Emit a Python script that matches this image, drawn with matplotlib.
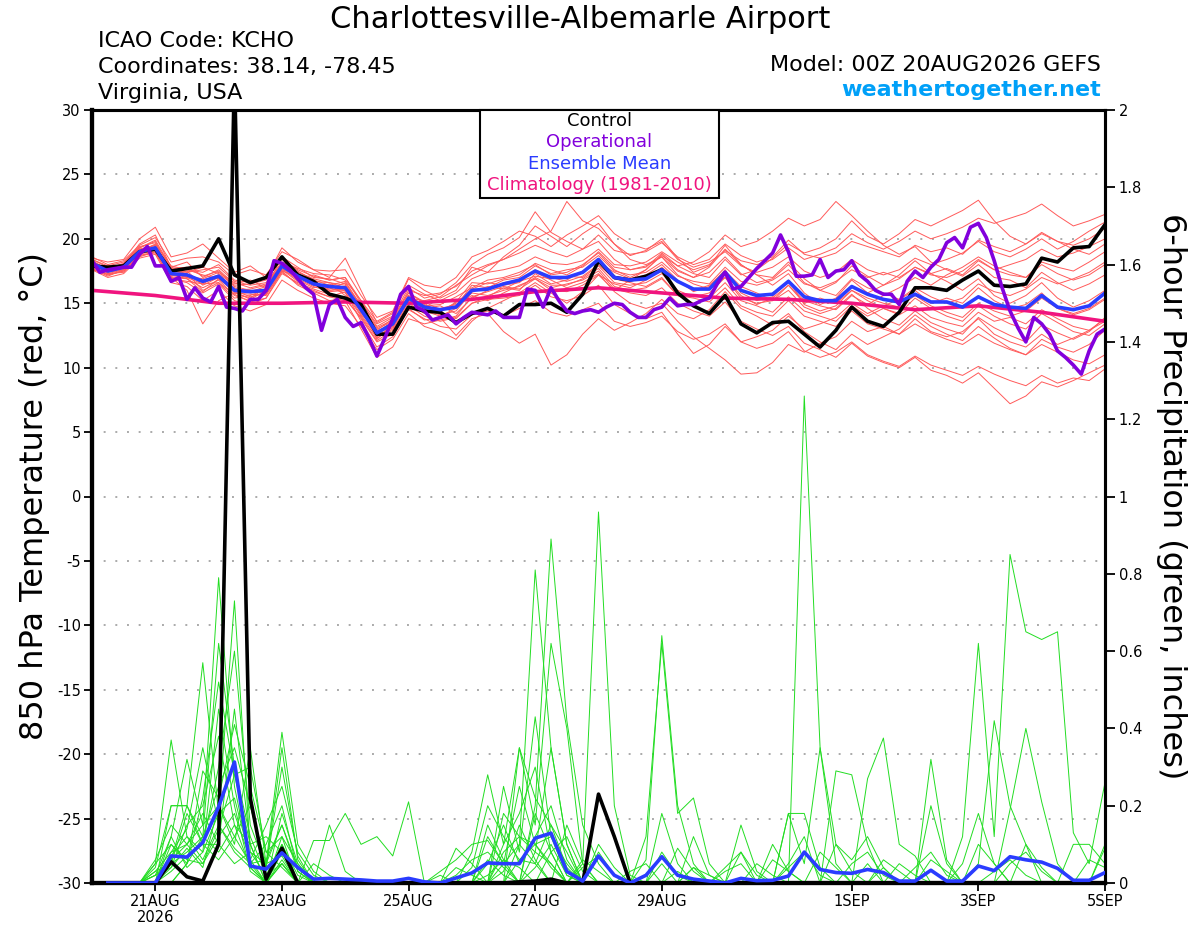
#-*- coding:utf-8 -*-
import numpy as np
import matplotlib
matplotlib.use("Agg")
from matplotlib import pyplot as plt
from matplotlib.patches import Rectangle

# forecast hours after 00Z 20AUG2026
hours_6h = np.arange(0, 385, 6)
hours_3h = np.arange(0, 385, 3)
hours_pcp = np.arange(6, 385, 6)

date_ticks = [24, 72, 120, 168, 216, 288, 336, 384]
date_labels = ["21AUG\n2026", "23AUG", "25AUG", "27AUG", "29AUG", "1SEP", "3SEP", "5SEP"]
temp_ticks = [-30, -25, -20, -15, -10, -5, 0, 5, 10, 15, 20, 25, 30]
pcp_ticks = [0, 0.2, 0.4, 0.6, 0.8, 1.0, 1.2, 1.4, 1.6, 1.8, 2.0]

# 850 hPa temperature (C), 6-hourly
control_t = [17.9, 17.8, 17.9, 19.0, 19.2, 17.5, 17.7, 17.9, 20.0, 17.2, 16.6, 17.0, 18.6,
             17.2, 16.7, 15.7, 15.4, 14.9, 12.6, 12.6, 14.7, 14.4, 14.3, 13.5, 14.2, 14.6,
             14.0, 14.9, 14.9, 15.0, 14.3, 15.7, 18.3, 17.0, 16.8, 17.1, 17.6, 15.8, 14.8,
             14.2, 15.6, 13.4, 12.7, 13.5, 13.6, 12.6, 11.6, 12.9, 14.7, 13.6, 13.2, 14.3,
             16.2, 16.2, 16.0, 16.8, 17.5, 16.4, 16.3, 16.5, 18.5, 18.2, 19.3, 19.4, 21.1]
mean_t = [18.1, 17.5, 17.8, 19.0, 19.3, 17.3, 17.2, 16.7, 17.1, 16.0, 15.9, 16.0, 17.9,
          17.1, 16.5, 16.3, 16.2, 14.5, 12.7, 13.4, 15.4, 14.7, 14.5, 14.7, 16.0, 16.1,
          16.5, 16.8, 17.5, 17.0, 17.0, 17.4, 18.4, 17.0, 16.8, 16.9, 17.6, 16.7, 16.1,
          16.1, 17.4, 16.0, 15.6, 15.7, 16.7, 15.5, 15.2, 15.2, 16.3, 15.7, 15.3, 15.1,
          15.7, 15.1, 15.1, 14.7, 15.5, 14.9, 14.7, 14.6, 15.6, 14.7, 14.5, 14.8, 15.8]
# operational run, 3-hourly
operational_t = [18.3, 17.4, 17.6, 17.7, 17.8, 17.8, 18.8, 19.4, 17.9, 17.9, 16.7, 17.0, 15.3,
                 16.2, 15.4, 15.1, 16.3, 14.7, 14.6, 14.4, 15.3, 15.3, 16.0, 18.3, 18.1, 17.6,
                 16.9, 16.2, 15.7, 12.9, 14.9, 15.3, 13.9, 13.2, 13.5, 12.3, 10.9, 12.3, 13.8,
                 15.7, 16.3, 14.7, 14.4, 13.7, 13.9, 14.1, 13.4, 13.9, 14.3, 14.2, 14.1, 14.4,
                 13.9, 13.9, 13.9, 16.1, 16.0, 14.7, 16.2, 15.2, 14.4, 14.2, 14.4, 14.5, 14.3,
                 14.7, 15.0, 14.9, 14.3, 13.9, 13.9, 14.5, 14.7, 15.4, 14.8, 14.9, 14.9, 15.2,
                 15.4, 16.5, 17.4, 16.1, 16.3, 17.0, 17.7, 18.3, 18.9, 20.3, 19.0, 17.1, 17.1,
                 17.2, 18.4, 17.0, 17.5, 17.6, 18.3, 17.2, 16.7, 16.0, 15.7, 15.7, 14.9, 16.7,
                 17.5, 17.0, 17.8, 18.4, 19.7, 20.1, 19.3, 20.9, 21.2, 20.1, 18.3, 16.2, 14.4,
                 13.1, 12.0, 13.9, 13.4, 12.6, 11.3, 10.8, 10.2, 9.5, 11.3, 12.6, 13.0]
clim_hours = [0, 24, 48, 72, 96, 120, 144, 168, 192, 216, 240, 264, 288, 312, 336, 360, 384]
clim_t = [16.0, 15.6, 15.0, 15.0, 15.1, 15.0, 15.3, 15.9, 16.2, 15.8, 15.4, 15.3, 15.0,
          14.5, 14.8, 14.3, 13.6]

# 6-hour precipitation (inches)
control_p = [0, 0, 0, 0, 0.055, 0.016, 0.005, 0.10, 2.1, 0.22, 0.01, 0.09, 0,
             0, 0, 0, 0, 0, 0, 0, 0, 0, 0, 0, 0, 0, 0.003, 0.005, 0.01, 0, 0, 0.23,
             0.12, 0, 0, 0, 0, 0, 0, 0, 0, 0, 0, 0, 0, 0, 0, 0, 0, 0, 0, 0,
             0, 0, 0, 0, 0, 0, 0, 0, 0, 0, 0, 0]
mean_p = [0, 0, 0, 0, 0.07, 0.067, 0.105, 0.197, 0.313, 0.044, 0.036, 0.078, 0.04,
          0.01, 0.012, 0.01, 0.008, 0.005, 0.005, 0.012, 0.003, 0.0, 0.013, 0.026, 0.052,
          0.05, 0.05, 0.116, 0.129, 0.03, 0.005, 0.07, 0.02, 0.0, 0.02, 0.068, 0.02, 0.01,
          0.005, 0.0, 0.012, 0.006, 0.007, 0.018, 0.08, 0.035, 0.027, 0.025, 0.035, 0.027,
          0.005, 0.005, 0.033, 0.005, 0.005, 0.044, 0.032, 0.068, 0.06, 0.054, 0.038,
          0.007, 0.007, 0.027]

# ensemble members, temperature
members_t = [
    [18.4, 17.8, 18.0, 19.6, 20.3, 17.8, 18.2, 17.0, 17.6, 16.5, 16.8, 16.2, 18.6, 17.8, 17.0, 16.9, 16.5, 14.2,
     12.9, 13.8, 16.0, 15.6, 15.8, 16.3, 17.5, 18.0, 18.4, 18.9, 19.5, 19.0, 18.6, 19.2, 20.3, 19.1, 18.8, 19.0, 19.7, 18.6,
     18.0, 18.4, 19.6, 18.7, 18.2, 18.6, 19.9, 18.8, 18.5, 18.9, 19.8, 19.4, 19.0, 18.6, 19.5, 19.0, 19.3, 18.8, 19.9, 19.4,
     19.0, 19.6, 20.4, 19.8, 19.5, 20.0, 20.8],
    [17.8, 17.2, 17.5, 18.6, 19.0, 16.9, 16.6, 15.8, 16.5, 15.2, 14.9, 15.4, 17.5, 16.4, 15.8, 15.2, 15.4, 13.8,
     12.0, 12.6, 14.5, 13.8, 13.2, 13.0, 14.1, 14.4, 14.0, 14.6, 15.2, 14.3, 14.0, 14.5, 15.0, 13.6, 13.2, 13.5, 14.0, 12.8,
     12.2, 12.6, 13.4, 12.0, 11.5, 11.9, 12.8, 11.3, 10.8, 11.2, 12.0, 11.0, 10.5, 10.1, 10.9, 10.2, 9.8, 9.4, 10.1, 9.5,
     9.0, 8.6, 9.4, 8.8, 9.2, 9.0, 9.9],
    [18.0, 17.6, 17.9, 19.2, 19.5, 17.0, 16.0, 13.4, 15.2, 15.8, 15.4, 16.2, 17.8, 16.9, 17.2, 16.8, 17.0, 15.2,
     13.2, 13.9, 15.8, 15.0, 14.2, 13.8, 15.0, 15.5, 16.2, 16.0, 17.3, 16.5, 16.8, 17.5, 18.2, 17.4, 16.9, 17.2, 18.0, 16.8,
     15.9, 16.3, 17.6, 15.8, 15.2, 15.5, 16.8, 14.9, 14.4, 14.8, 16.0, 15.2, 14.6, 14.2, 15.4, 14.6, 14.0, 13.6, 14.8, 14.0,
     13.4, 13.0, 14.2, 13.5, 12.8, 12.5, 13.4],
    [18.5, 18.2, 18.4, 20.0, 20.9, 18.6, 18.9, 19.6, 18.5, 17.4, 17.9, 17.0, 19.3, 18.2, 17.6, 17.0, 18.5, 16.0,
     13.5, 14.2, 16.9, 16.0, 15.4, 16.0, 17.8, 17.4, 18.6, 19.5, 21.0, 20.2, 19.4, 20.4, 21.2, 19.6, 18.7, 19.1, 20.0, 18.5,
     17.4, 17.9, 19.5, 18.0, 17.2, 17.0, 18.2, 16.9, 16.0, 16.6, 17.9, 17.1, 16.4, 16.9, 17.8, 17.2, 17.0, 17.5, 18.4, 17.6,
     17.2, 17.0, 18.0, 17.3, 16.8, 17.2, 18.0],
    [17.6, 17.3, 17.4, 18.8, 19.1, 17.2, 16.9, 16.2, 16.8, 15.6, 15.2, 15.7, 17.4, 16.5, 16.0, 15.5, 15.9, 13.6,
     11.6, 12.4, 14.6, 13.7, 13.9, 12.5, 13.8, 14.2, 12.8, 11.9, 12.6, 10.2, 11.0, 12.6, 13.8, 12.9, 13.5, 14.2, 15.3, 14.2,
     13.8, 14.5, 15.9, 14.6, 14.0, 13.3, 14.2, 12.8, 12.0, 11.4, 12.6, 11.8, 12.4, 13.0, 14.1, 13.2, 12.6, 12.1, 13.2, 12.3,
     11.5, 11.0, 12.2, 11.6, 11.2, 11.8, 12.9],
    [18.2, 17.7, 18.1, 19.3, 19.8, 17.6, 17.4, 17.8, 17.3, 16.4, 16.5, 16.8, 18.5, 17.5, 16.8, 16.4, 16.7, 14.8,
     13.0, 13.6, 15.4, 15.2, 15.5, 16.4, 17.2, 17.9, 18.4, 19.2, 20.0, 20.6, 22.9, 21.4, 20.8, 19.6, 18.4, 18.0, 18.6, 17.2,
     16.5, 16.1, 17.0, 15.6, 14.9, 15.4, 16.4, 15.2, 14.8, 14.5, 15.6, 14.9, 15.6, 16.2, 17.0, 16.4, 17.2, 17.8, 18.6, 17.9,
     17.4, 17.0, 18.2, 17.8, 17.5, 18.2, 19.0],
    [17.9, 17.4, 17.6, 19.0, 19.4, 17.4, 17.0, 16.5, 17.2, 16.2, 15.8, 15.9, 17.9, 17.0, 16.6, 16.0, 16.1, 14.6,
     12.4, 13.2, 15.5, 14.9, 14.3, 15.1, 16.6, 16.5, 16.9, 17.2, 18.1, 17.6, 17.2, 17.9, 19.0, 17.8, 17.6, 17.8, 18.9, 17.9,
     17.3, 17.0, 18.4, 17.2, 17.6, 18.5, 19.6, 18.9, 19.3, 20.0, 21.4, 20.2, 19.6, 20.4, 21.5, 21.0, 21.6, 22.2, 23.0, 21.4,
     20.2, 19.6, 20.5, 19.8, 19.2, 18.8, 19.6],
    [18.3, 17.6, 17.7, 19.1, 19.2, 17.1, 17.5, 16.4, 17.0, 16.0, 15.5, 15.8, 17.6, 17.3, 16.4, 16.2, 15.8, 14.0,
     12.3, 13.0, 15.0, 14.2, 14.6, 14.9, 15.6, 15.2, 15.8, 16.4, 16.9, 16.2, 16.5, 16.8, 17.5, 16.1, 15.8, 15.6, 16.2, 15.0,
     14.4, 14.0, 15.1, 13.6, 13.0, 12.5, 13.2, 11.9, 11.4, 10.8, 11.9, 10.9, 10.4, 10.0, 10.8, 9.8, 9.4, 8.8, 9.6, 8.4,
     7.2, 7.8, 8.9, 8.5, 9.0, 9.6, 10.2],
    [17.7, 17.1, 17.6, 18.7, 19.0, 16.8, 17.1, 16.9, 17.4, 16.6, 16.2, 16.5, 18.0, 17.4, 16.9, 16.6, 16.2, 14.4,
     12.8, 13.5, 15.6, 14.8, 14.9, 15.5, 16.2, 16.8, 17.0, 17.4, 18.0, 17.2, 17.4, 18.0, 18.9, 17.6, 17.0, 17.6, 18.7, 17.9,
     18.2, 19.0, 20.3, 19.4, 19.8, 20.6, 21.6, 21.0, 21.5, 22.9, 21.8, 20.6, 19.5, 18.8, 19.4, 18.2, 17.6, 17.1, 18.0, 17.0,
     16.8, 16.2, 17.4, 16.6, 16.0, 16.5, 17.2],
    [18.0, 17.4, 17.7, 18.9, 19.1, 17.5, 17.3, 16.0, 16.6, 15.4, 15.6, 16.1, 17.7, 16.8, 16.2, 16.5, 15.6, 14.5,
     12.6, 13.3, 15.1, 14.4, 14.0, 14.6, 15.8, 15.6, 16.0, 16.3, 17.0, 16.4, 16.4, 16.9, 17.7, 16.3, 16.0, 16.2, 16.9, 15.6,
     15.0, 15.4, 16.6, 15.2, 14.8, 14.3, 15.5, 14.4, 14.0, 13.6, 14.8, 14.0, 14.6, 14.1, 14.8, 13.9, 13.5, 13.2, 14.3, 13.6,
     13.9, 13.4, 14.5, 13.8, 13.2, 12.9, 13.6],
    [18.1, 17.5, 17.8, 19.0, 19.6, 17.9, 17.6, 17.4, 18.0, 16.8, 16.6, 16.9, 18.4, 17.6, 17.1, 16.8, 17.0, 15.0,
     13.4, 14.0, 16.2, 15.4, 15.7, 16.6, 18.0, 18.8, 19.3, 20.1, 22.1, 20.5, 19.8, 19.2, 19.8, 18.4, 17.6, 17.9, 18.6, 17.5,
     17.0, 17.4, 18.6, 17.3, 16.6, 16.9, 18.0, 16.6, 16.0, 15.6, 16.9, 16.2, 15.8, 15.3, 16.2, 15.5, 15.0, 15.4, 16.5, 15.9,
     15.6, 16.1, 17.0, 16.5, 16.9, 17.4, 18.2],
    [17.7, 17.2, 17.5, 18.7, 18.9, 16.9, 16.7, 16.5, 16.6, 15.7, 15.1, 15.4, 17.3, 16.6, 16.1, 15.7, 15.3, 13.9,
     12.1, 12.9, 14.8, 14.0, 13.6, 13.9, 15.0, 15.3, 15.4, 15.6, 16.4, 15.5, 15.2, 15.6, 16.4, 14.9, 14.2, 13.8, 14.3, 12.6,
     11.1, 11.8, 13.2, 12.0, 12.4, 12.9, 14.0, 13.0, 13.4, 13.9, 15.0, 14.2, 14.8, 15.3, 16.0, 15.0, 15.4, 15.0, 16.2, 15.2,
     14.6, 14.9, 15.8, 14.6, 14.2, 14.6, 15.4],
    [18.4, 17.9, 18.2, 19.4, 19.7, 17.3, 17.0, 16.8, 17.2, 16.1, 15.9, 16.3, 18.1, 16.9, 16.3, 15.9, 16.0, 14.1,
     12.5, 13.1, 15.2, 14.6, 14.8, 14.2, 15.4, 16.0, 16.6, 16.8, 17.4, 16.8, 16.2, 16.6, 17.3, 15.9, 15.0, 14.6, 15.0, 13.6,
     12.4, 11.5, 10.6, 9.5, 9.6, 10.4, 11.8, 11.2, 11.9, 12.4, 13.6, 12.8, 13.2, 12.6, 13.4, 12.7, 12.2, 11.8, 12.6, 11.9,
     11.4, 11.0, 11.8, 11.2, 10.6, 10.3, 11.0],
    [17.8, 17.5, 17.9, 19.2, 19.3, 17.7, 17.8, 17.1, 17.5, 16.3, 16.0, 15.7, 17.9, 17.2, 16.7, 16.6, 16.4, 14.9,
     13.1, 13.7, 15.8, 15.1, 14.5, 14.8, 16.4, 16.2, 16.8, 17.0, 17.9, 17.3, 17.6, 17.8, 18.7, 17.5, 17.2, 17.4, 18.2, 17.1,
     16.7, 16.5, 17.8, 16.7, 16.4, 16.8, 17.6, 16.5, 16.2, 16.7, 17.6, 17.0, 17.4, 17.0, 17.8, 17.3, 17.7, 17.2, 18.3, 17.6,
     18.0, 18.4, 19.2, 18.6, 18.9, 19.4, 20.0],
    [18.2, 17.3, 17.6, 18.8, 19.4, 17.0, 16.9, 15.9, 16.9, 15.9, 15.3, 16.0, 17.5, 17.1, 16.5, 16.1, 16.6, 14.7,
     12.2, 13.4, 15.3, 14.5, 14.1, 14.4, 15.9, 16.3, 16.1, 16.7, 17.1, 16.9, 17.1, 17.0, 17.9, 16.6, 16.4, 16.6, 17.3, 16.0,
     15.5, 15.8, 17.0, 15.4, 15.0, 15.2, 16.4, 15.0, 15.4, 15.0, 16.0, 15.4, 15.0, 14.7, 15.6, 14.8, 14.3, 13.9, 15.0, 14.4,
     14.0, 14.4, 15.4, 14.6, 14.1, 14.5, 15.3],
    [18.0, 17.6, 17.8, 19.1, 19.5, 17.1, 17.2, 16.6, 17.0, 15.8, 15.7, 15.6, 17.6, 16.7, 15.9, 15.5, 15.2, 13.0,
     10.8, 11.6, 13.8, 13.4, 13.7, 14.0, 15.5, 15.9, 16.3, 16.1, 16.9, 16.0, 15.9, 16.4, 17.2, 16.5, 16.2, 16.8, 17.8, 16.7,
     16.0, 16.4, 17.5, 16.3, 15.8, 15.2, 16.0, 14.7, 14.2, 14.6, 15.7, 14.6, 13.8, 13.3, 14.4, 13.5, 13.0, 12.6, 13.9, 13.1,
     12.5, 12.0, 13.3, 12.7, 12.2, 12.8, 13.9],
    [17.9, 17.8, 18.0, 19.3, 19.9, 17.8, 17.4, 17.6, 17.8, 16.7, 16.4, 16.6, 18.2, 17.7, 17.3, 17.2, 16.8, 15.2,
     13.6, 14.3, 16.4, 15.7, 15.2, 15.8, 16.9, 17.4, 17.6, 17.9, 18.6, 18.1, 18.0, 18.3, 19.2, 18.0, 17.9, 18.2, 19.0, 18.2,
     17.6, 18.0, 19.1, 18.3, 18.0, 18.4, 19.3, 18.4, 18.8, 19.3, 20.4, 19.7, 19.2, 19.8, 20.6, 20.0, 20.4, 20.9, 21.6, 21.2,
     21.6, 22.0, 22.7, 21.8, 21.0, 21.4, 21.9],
    [18.3, 17.6, 17.9, 19.0, 19.2, 17.4, 17.6, 17.2, 16.9, 16.0, 16.1, 16.4, 18.1, 17.0, 16.4, 16.0, 16.2, 14.3,
     12.7, 13.6, 15.6, 14.7, 14.4, 15.0, 16.1, 16.6, 16.4, 16.6, 17.6, 17.0, 16.7, 17.1, 18.0, 16.9, 16.6, 16.3, 17.0, 15.6,
     15.4, 15.1, 16.2, 14.8, 14.3, 14.0, 15.2, 14.0, 13.6, 13.2, 14.4, 13.4, 13.0, 12.6, 13.8, 12.8, 12.4, 12.8, 13.8, 12.6,
     12.0, 11.6, 12.6, 11.8, 12.3, 12.9, 13.8],
    [17.6, 17.0, 17.3, 18.5, 18.8, 16.6, 16.3, 15.2, 16.0, 14.8, 14.4, 14.9, 16.8, 16.0, 15.4, 15.0, 14.8, 13.2,
     11.4, 12.2, 14.2, 13.2, 12.8, 12.2, 13.6, 14.6, 15.2, 15.8, 16.6, 15.8, 15.0, 15.9, 17.2, 16.0, 16.8, 17.6, 18.8, 17.6,
     17.0, 17.8, 19.2, 18.0, 17.2, 16.4, 17.3, 15.8, 14.9, 15.4, 16.8, 15.8, 16.4, 17.2, 18.3, 17.3, 16.7, 16.0, 16.9, 15.6,
     15.0, 15.6, 16.6, 15.4, 14.7, 15.2, 16.0],
    [18.6, 18.0, 18.3, 19.5, 20.1, 18.2, 18.5, 18.6, 18.2, 17.2, 17.6, 17.2, 19.0, 18.4, 17.6, 17.5, 17.6, 15.6,
     13.9, 14.4, 17.0, 16.4, 16.2, 17.0, 18.6, 19.1, 19.8, 20.6, 20.2, 19.4, 20.3, 21.0, 21.8, 20.4, 19.6, 19.2, 19.8, 18.4,
     17.8, 18.2, 19.0, 17.9, 17.4, 17.8, 18.6, 17.5, 17.0, 17.4, 18.4, 17.6, 17.2, 17.6, 18.5, 18.0, 18.4, 18.9, 19.8, 19.0,
     18.6, 19.2, 20.0, 19.2, 19.8, 20.6, 21.3],
]

# ensemble members, precipitation: {forecast hour: inches}, zero elsewhere
members_p = [
    {24: 0.05, 30: 0.37, 36: 0.12, 42: 0.08, 48: 0.45, 54: 0.2, 60: 0.03, 72: 0.06, 156: 0.05, 162: 0.1,
     168: 0.81, 174: 0.35, 180: 0.1, 216: 0.05, 264: 0.05, 270: 0.12},
    {24: 0.02, 30: 0.12, 36: 0.32, 42: 0.15, 48: 0.79, 54: 0.25, 60: 0.05, 66: 0.1, 72: 0.2, 78: 0.03,
     150: 0.12, 156: 0.05, 168: 0.2, 174: 0.89, 180: 0.42, 186: 0.15, 192: 0.05, 228: 0.04, 294: 0.05},
    {30: 0.06, 36: 0.2, 42: 0.57, 48: 0.18, 54: 0.73, 60: 0.08, 66: 0.05, 72: 0.39, 78: 0.1, 84: 0.03,
     156: 0.25, 162: 0.08, 168: 0.43, 174: 0.12, 180: 0.02, 222: 0.03, 282: 0.29, 288: 0.28, 294: 0.1},
    {24: 0.04, 30: 0.2, 36: 0.2, 42: 0.1, 48: 0.3, 54: 0.6, 60: 0.15, 66: 0.04, 72: 0.35, 78: 0.06,
     186: 0.05, 192: 0.96, 198: 0.2, 204: 0.02, 264: 0.18, 270: 0.18, 276: 0.04, 318: 0.32, 324: 0.06},
    {30: 0.1, 36: 0.05, 42: 0.29, 48: 0.22, 54: 0.41, 60: 0.25, 66: 0.08, 72: 0.12, 84: 0.11, 90: 0.11,
     96: 0.18, 102: 0.1, 108: 0.12, 114: 0.07, 120: 0.21, 138: 0.09, 144: 0.05, 210: 0.06, 216: 0.64,
     222: 0.2, 228: 0.05, 348: 0.19, 354: 0.4, 360: 0.21, 366: 0.05},
    {24: 0.03, 30: 0.08, 36: 0.14, 42: 0.35, 48: 0.15, 54: 0.09, 60: 0.05, 72: 0.18, 78: 0.05, 144: 0.08,
     150: 0.28, 156: 0.1, 162: 0.35, 168: 0.15, 174: 0.62, 180: 0.4, 186: 0.05, 270: 1.26, 276: 0.35,
     282: 0.05, 300: 0.04},
    {30: 0.05, 36: 0.08, 42: 0.12, 48: 0.62, 54: 0.3, 60: 0.12, 66: 0.02, 72: 0.1, 150: 0.15, 156: 0.06,
     168: 0.08, 174: 0.35, 180: 0.1, 210: 0.12, 216: 0.62, 222: 0.18, 228: 0.22, 234: 0.05, 330: 0.12,
     336: 0.62, 342: 0.12, 348: 0.85, 354: 0.65, 360: 0.63, 366: 0.65, 372: 0.13, 378: 0.05, 384: 0.26},
    {24: 0.06, 30: 0.15, 36: 0.1, 42: 0.18, 48: 0.1, 54: 0.45, 60: 0.1, 66: 0.12, 72: 0.08, 78: 0.04,
     90: 0.15, 96: 0.03, 156: 0.18, 162: 0.12, 168: 0.1, 174: 0.05, 246: 0.15, 252: 0.03, 294: 0.27,
     300: 0.375, 306: 0.1, 312: 0.07},
    {30: 0.2, 36: 0.2, 42: 0.12, 48: 0.25, 54: 0.35, 60: 0.2, 66: 0.05, 72: 0.15, 78: 0.04, 132: 0.03,
     138: 0.06, 144: 0.1, 150: 0.11, 156: 0.05, 162: 0.25, 168: 0.1, 174: 0.12, 180: 0.05, 216: 0.18,
     222: 0.05, 258: 0.1, 264: 0.03, 276: 0.08, 282: 0.04, 318: 0.2, 324: 0.05},
    {36: 0.05, 42: 0.22, 48: 0.52, 54: 0.28, 60: 0.1, 72: 0.05, 162: 0.35, 168: 0.22, 174: 0.15, 180: 0.04,
     192: 0.08, 198: 0.02, 240: 0.04, 246: 0.08, 336: 0.05, 342: 0.42, 348: 0.2, 354: 0.1, 384: 0.09},
    {24: 0.02, 30: 0.06, 36: 0.1, 42: 0.05, 48: 0.14, 54: 0.28, 60: 0.3, 66: 0.08, 72: 0.04, 144: 0.04,
     150: 0.2, 156: 0.12, 162: 0.06, 168: 0.05, 180: 0.15, 186: 0.05, 264: 0.18, 270: 0.05, 276: 0.35,
     282: 0.1, 288: 0.03},
    {30: 0.04, 36: 0.15, 42: 0.2, 48: 0.38, 54: 0.15, 60: 0.04, 72: 0.12, 78: 0.05, 156: 0.1, 162: 0.18,
     168: 0.3, 174: 0.08, 192: 0.1, 198: 0.04, 228: 0.04, 234: 0.02, 306: 0.05, 312: 0.02, 372: 0.1,
     378: 0.1, 384: 0.05},
    {30: 0.12, 36: 0.04, 42: 0.08, 48: 0.18, 54: 0.22, 60: 0.06, 66: 0.15, 72: 0.25, 78: 0.08, 84: 0.02,
     150: 0.05, 156: 0.15, 162: 0.05, 168: 0.12, 174: 0.2, 180: 0.06, 216: 0.08, 222: 0.02, 282: 0.1,
     288: 0.06, 294: 0.12, 300: 0.04},
    {24: 0.03, 30: 0.05, 36: 0.18, 42: 0.1, 48: 0.06, 54: 0.12, 60: 0.2, 66: 0.04, 72: 0.3, 78: 0.07,
     138: 0.02, 144: 0.06, 150: 0.08, 156: 0.04, 168: 0.18, 174: 0.08, 186: 0.06, 192: 0.03, 336: 0.1,
     342: 0.05, 354: 0.1, 360: 0.04},
    {30: 0.08, 36: 0.1, 42: 0.15, 48: 0.2, 54: 0.1, 60: 0.35, 66: 0.05, 72: 0.07, 162: 0.1, 168: 0.05,
     174: 0.15, 180: 0.08, 228: 0.12, 234: 0.02, 252: 0.05, 258: 0.02, 318: 0.06, 324: 0.03},
    {24: 0.05, 30: 0.1, 36: 0.06, 42: 0.05, 48: 0.12, 54: 0.18, 60: 0.06, 72: 0.1, 78: 0.02, 156: 0.08,
     162: 0.12, 168: 0.08, 174: 0.05, 204: 0.03, 210: 0.05, 264: 0.04, 270: 0.08, 276: 0.02, 330: 0.05,
     336: 0.18, 342: 0.05, 384: 0.1},
    {30: 0.03, 36: 0.07, 42: 0.1, 48: 0.1, 54: 0.05, 60: 0.08, 66: 0.02, 72: 0.05, 84: 0.05, 90: 0.02,
     150: 0.02, 156: 0.06, 162: 0.04, 174: 0.08, 180: 0.12, 186: 0.03, 246: 0.08, 252: 0.02, 300: 0.06,
     306: 0.03, 348: 0.05, 354: 0.08, 360: 0.03},
    {36: 0.05, 42: 0.12, 48: 0.08, 54: 0.15, 60: 0.1, 72: 0.08, 138: 0.04, 144: 0.02, 162: 0.06, 168: 0.1,
     174: 0.04, 222: 0.09, 228: 0.03, 312: 0.04, 318: 0.08, 324: 0.02},
    {30: 0.07, 36: 0.12, 42: 0.06, 48: 0.15, 54: 0.08, 60: 0.04, 72: 0.05, 156: 0.03, 162: 0.15, 168: 0.06,
     186: 0.04, 192: 0.07, 198: 0.02, 258: 0.06, 264: 0.03, 288: 0.05, 294: 0.08, 300: 0.02, 378: 0.06,
     384: 0.04},
    {24: 0.02, 30: 0.04, 36: 0.09, 42: 0.04, 48: 0.2, 54: 0.12, 60: 0.05, 66: 0.06, 72: 0.15, 78: 0.03,
     132: 0.02, 150: 0.06, 156: 0.02, 168: 0.04, 174: 0.1, 180: 0.02, 240: 0.03, 246: 0.05, 342: 0.03,
     348: 0.06, 354: 0.02},
]

C_CONTROL = "black"
C_OPER = "#8200dc"
C_MEAN = "#2a3cff"
C_CLIM = "#f0147f"
C_MEMBER_T = "#ff5a5a"
C_MEMBER_P = "#22dd22"


def main():
    plt.rcParams["font.family"] = "DejaVu Sans"
    plt.rcParams["axes.unicode_minus"] = False

    fig = plt.figure(figsize=(12, 9.27), dpi=100)
    ax = fig.add_axes([92 / 1200, 44 / 927, 1013 / 1200, 773 / 927])
    ax2 = ax.twinx()

    # 気温 (左軸)
    for m in members_t:
        assert len(m) == len(hours_6h)
        ax.plot(hours_6h, m, color=C_MEMBER_T, lw=0.7, zorder=2)
    ax.plot(clim_hours, clim_t, color=C_CLIM, lw=2.6, zorder=3)
    ax.plot(hours_6h, control_t, color=C_CONTROL, lw=2.6, zorder=4)
    ax.plot(hours_6h, mean_t, color=C_MEAN, lw=2.6, zorder=5)
    ax.plot(hours_3h, operational_t, color=C_OPER, lw=2.6, zorder=6)

    # 降水量 (右軸)
    for g in members_p:
        vals = [g.get(h, 0.0) for h in hours_pcp]
        ax2.plot(hours_pcp, vals, color=C_MEMBER_P, lw=0.7, zorder=2)
    ax2.plot(hours_pcp, control_p, color=C_CONTROL, lw=2.6, zorder=4)
    ax2.plot(hours_pcp, mean_p, color=C_MEAN, lw=2.6, zorder=5)

    # 軸の設定
    ax.set_xlim(0, 384)
    ax.set_ylim(-30, 30)
    ax2.set_ylim(0, 2)
    ax.set_xticks(date_ticks)
    ax.set_xticklabels(date_labels, fontsize=10.5, linespacing=1.1)
    ax.set_yticks(temp_ticks)
    ax.set_yticklabels([str(t) for t in temp_ticks], fontsize=10.5)
    ax2.set_yticks(pcp_ticks)
    ax2.set_yticklabels(["%g" % p for p in pcp_ticks], fontsize=10.5)
    ax.tick_params(axis="both", direction="out", length=6, width=1.3, pad=2)
    ax2.tick_params(axis="y", direction="out", length=7, width=1.3, pad=3)

    for a in (ax, ax2):
        for side in ("left", "bottom"):
            a.spines[side].set_linewidth(3)
        for side in ("top", "right"):
            a.spines[side].set_linewidth(2.2)

    # グリッドの描画
    for t in temp_ticks[1:-1]:
        ax.axhline(t, color="#aaaaaa", lw=1.4, ls=(0, (1, 5)), zorder=1)

    ax.set_ylabel("850 hPa Temperature (red, \u00b0C)", fontsize=23, labelpad=5)
    ax2.set_ylabel("6-hour Precipitation (green, inches)", fontsize=23,
                   rotation=270, labelpad=32)

    # 凡例
    box_x0 = (480 - 92) / 1013
    box_w = (719 - 480) / 1013
    box_h = (198 - 110) / 773
    ax2.add_patch(Rectangle((box_x0, 1 - box_h), box_w, box_h, transform=ax2.transAxes,
                            facecolor="white", edgecolor="black", lw=1.5, zorder=20,
                            clip_on=False))
    legend_items = [("Control", C_CONTROL), ("Operational", C_OPER),
                    ("Ensemble Mean", C_MEAN), ("Climatology (1981-2010)", C_CLIM)]
    for k, (txt, col) in enumerate(legend_items):
        ax2.text(box_x0 + box_w / 2, (883 - (121 + 21.3 * k)) / 773, txt, color=col,
                 fontsize=13, ha="center", va="center", transform=ax2.transAxes, zorder=21)

    # タイトル等
    fig.text(580 / 1200, 1 - 20 / 927, "Charlottesville-Albemarle Airport",
             fontsize=22, ha="center", va="center")
    info = ["ICAO Code: KCHO", "Coordinates: 38.14, -78.45", "Virginia, USA"]
    for k, s in enumerate(info):
        fig.text(98 / 1200, 1 - (41 + 26 * k) / 927, s, fontsize=16, ha="left", va="center")
    fig.text(1101 / 1200, 1 - 65 / 927, "Model: 00Z 20AUG2026 GEFS",
             fontsize=16, ha="right", va="center")
    fig.text(1101 / 1200, 1 - 90 / 927, "weathertogether.net", fontsize=16,
             fontweight="bold", color="#00a0f8", ha="right", va="center")

    fig.savefig("out.png", dpi=100)


if __name__ == "__main__":
    main()
